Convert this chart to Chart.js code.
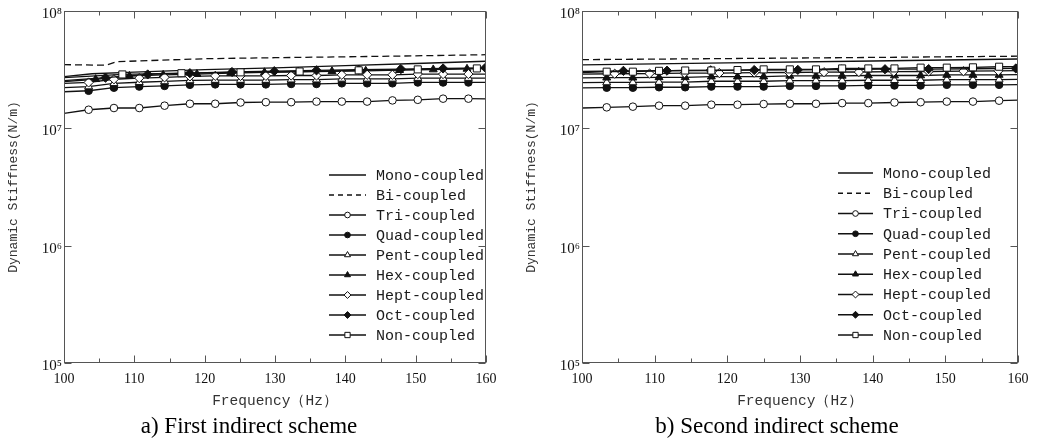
<!DOCTYPE html>
<html><head><meta charset="utf-8">
<script src="https://cdn.jsdelivr.net/npm/chart.js@4.4.1/dist/chart.umd.min.js"></script>
<style>
html,body{margin:0;padding:0;background:#fff;}
body{width:1038px;height:441px;position:relative;overflow:hidden;}
canvas{position:absolute;top:0;}
#ca{left:0;} #cb{left:518px;}
</style></head><body>
<canvas id="ca" width="498" height="441"></canvas>
<canvas id="cb" width="518" height="441"></canvas>
<script>
// ---------- data ----------
const seriesNames = ['Mono-coupled','Bi-coupled','Tri-coupled','Quad-coupled','Pent-coupled','Hex-coupled','Hept-coupled','Oct-coupled','Non-coupled'];
const captions = ['a) First indirect scheme','b) Second indirect scheme'];
const xTitle = 'Frequency（Hz）';
const yTitle = 'Dynamic Stiffness(N/m)';
const xTicks = [100,110,120,130,140,150,160];
const xMinorTicks = [105,115,125,135,145,155];
const yTicks = [1e5,1e6,1e7,1e8];
const yTickLabels = ['10⁵','10⁶','10⁷','10⁸'];

// chart a
const aMonoX = [100,104,110,120,130,140,150,160];
const aMonoY = [2.76e7,2.92e7,3.01e7,3.16e7,3.28e7,3.42e7,3.57e7,3.73e7];
const aBiX = [100,106,107.5,120,130,140,150,160];
const aBiY = [3.49e7,3.45e7,3.70e7,3.92e7,4.00e7,4.07e7,4.15e7,4.24e7];
const aGridX = [100,103.5,107.1,110.7,114.3,117.9,121.5,125.1,128.7,132.3,135.9,139.5,143.1,146.7,150.3,153.9,157.5,160];
const aTriY = [1.34e7,1.44e7,1.49e7,1.49e7,1.56e7,1.62e7,1.62e7,1.66e7,1.67e7,1.67e7,1.69e7,1.69e7,1.69e7,1.73e7,1.75e7,1.79e7,1.79e7,1.78e7];
const aQuadY = [2.05e7,2.09e7,2.22e7,2.27e7,2.30e7,2.35e7,2.37e7,2.37e7,2.37e7,2.39e7,2.39e7,2.42e7,2.42e7,2.42e7,2.46e7,2.46e7,2.46e7,2.46e7];
const aPentY = [2.22e7,2.27e7,2.42e7,2.47e7,2.51e7,2.56e7,2.58e7,2.58e7,2.58e7,2.60e7,2.60e7,2.64e7,2.64e7,2.64e7,2.68e7,2.68e7,2.68e7,2.68e7];
const aHeptY = [2.42e7,2.46e7,2.62e7,2.68e7,2.72e7,2.77e7,2.80e7,2.80e7,2.80e7,2.82e7,2.82e7,2.86e7,2.86e7,2.86e7,2.90e7,2.90e7,2.90e7,2.90e7];
const aHexX = [100,104.5,109.3,114.1,118.9,123.7,128.5,133.3,138.1,142.9,147.7,152.5,157.3,160];
const aHexY = [2.50e7,2.62e7,2.79e7,2.85e7,2.90e7,2.96e7,3.00e7,3.03e7,3.06e7,3.09e7,3.13e7,3.17e7,3.21e7,3.23e7];
const aOctX = [100,105.9,111.9,117.9,123.9,129.9,135.9,141.9,147.9,153.9,159.9];
const aOctY = [2.55e7,2.70e7,2.88e7,2.95e7,3.02e7,3.07e7,3.12e7,3.16e7,3.20e7,3.24e7,3.28e7];
const aNonX = [100,108.3,116.7,125.1,133.5,141.9,150.3,158.7,160];
const aNonY = [2.70e7,2.88e7,2.95e7,3.00e7,3.05e7,3.12e7,3.18e7,3.24e7,3.25e7];

// chart b
const bMonoX = [100,120,140,160];
const bMonoY = [3.47e7,3.61e7,3.75e7,3.90e7];
const bBiX = [100,120,140,160];
const bBiY = [3.85e7,3.93e7,4.02e7,4.12e7];
const bGridX = [100,103.4,107.0,110.6,114.2,117.8,121.4,125.0,128.6,132.2,135.8,139.4,143.0,146.6,150.2,153.8,157.4,160];
const bTriY = [1.49e7,1.51e7,1.53e7,1.56e7,1.56e7,1.59e7,1.59e7,1.61e7,1.62e7,1.62e7,1.64e7,1.64e7,1.66e7,1.67e7,1.69e7,1.69e7,1.72e7,1.74e7];
const bQuadY = [2.21e7,2.22e7,2.22e7,2.24e7,2.24e7,2.27e7,2.27e7,2.27e7,2.30e7,2.30e7,2.30e7,2.32e7,2.32e7,2.32e7,2.35e7,2.35e7,2.35e7,2.36e7];
const bPentY = [2.45e7,2.46e7,2.46e7,2.48e7,2.48e7,2.52e7,2.52e7,2.52e7,2.55e7,2.55e7,2.55e7,2.57e7,2.57e7,2.57e7,2.60e7,2.60e7,2.60e7,2.61e7];
const bHexY = [2.69e7,2.70e7,2.70e7,2.72e7,2.72e7,2.76e7,2.76e7,2.76e7,2.80e7,2.80e7,2.80e7,2.82e7,2.82e7,2.82e7,2.85e7,2.85e7,2.85e7,2.87e7];
const bHeptX = [100,104.5,109.3,114.1,118.9,123.7,128.5,133.3,138.1,142.9,147.7,152.5,157.3,160];
const bHeptY = [2.90e7,2.92e7,2.93e7,2.95e7,2.96e7,2.98e7,2.99e7,3.01e7,3.02e7,3.04e7,3.05e7,3.07e7,3.09e7,3.10e7];
const bOctX = [100,105.7,111.7,117.7,123.7,129.7,135.7,141.7,147.7,153.7,159.7];
const bOctY = [3.05e7,3.09e7,3.10e7,3.12e7,3.14e7,3.15e7,3.17e7,3.19e7,3.20e7,3.22e7,3.24e7];
const bNonY = [2.98e7,3.04e7,3.04e7,3.09e7,3.11e7,3.11e7,3.14e7,3.18e7,3.18e7,3.18e7,3.24e7,3.24e7,3.24e7,3.29e7,3.29e7,3.31e7,3.35e7,3.36e7];

// ---------- styles ----------
const INK = '#111';
const styles = [
  {pointStyle:false, dash:[]},
  {pointStyle:false, dash:[7,4]},
  {pointStyle:'circle', fill:'#fff', r:3.8},
  {pointStyle:'circle', fill:INK, r:3.8},
  {pointStyle:'triangle', fill:'#fff', r:4.6},
  {pointStyle:'triangle', fill:INK, r:4.6},
  {pointStyle:'rectRot', fill:'#fff', r:4.6},
  {pointStyle:'rectRot', fill:INK, r:4.6},
  {pointStyle:'rect', fill:'#fff', r:5}
];

function pts(xs, ys){ return xs.map((x,i)=>({x:x, y:ys[i]})); }

function buildDatasets(series){
  return series.map((d,i)=>{
    const s = styles[i];
    return {
      label: seriesNames[i],
      data: pts(d[0], d[1]),
      borderColor: INK,
      borderWidth: 1.3,
      borderDash: s.dash || [],
      pointStyle: s.pointStyle,
      pointBackgroundColor: s.fill || '#fff',
      pointBorderColor: INK,
      pointBorderWidth: 1,
      pointRadius: (c)=>{ if(!s.pointStyle) return 0; const p = c.raw; return (p && (p.x===100 || p.x===160)) ? 0 : s.r; },
      tension: 0,
      fill: false,
      order: 9 - i
    };
  });
}

const frameTicks = {
  id:'frameTicks',
  afterDatasetsDraw(chart){
    const {ctx, chartArea:a, scales:{x,y}} = chart;
    ctx.save();
    ctx.strokeStyle = '#555'; ctx.lineWidth = 1;
    const L = Math.round(a.left)+0.5, R = Math.round(a.right)-0.5, T = Math.round(a.top)+0.5, B = Math.round(a.bottom)-0.5;
    ctx.strokeRect(L, T, R-L, B-T);
    ctx.beginPath();
    xTicks.forEach(v=>{ const px = Math.round(x.getPixelForValue(v))+0.5; ctx.moveTo(px,B); ctx.lineTo(px,B-7); ctx.moveTo(px,T); ctx.lineTo(px,T+7); });
    xMinorTicks.forEach(v=>{ const px = Math.round(x.getPixelForValue(v))+0.5; ctx.moveTo(px,B); ctx.lineTo(px,B-4); ctx.moveTo(px,T); ctx.lineTo(px,T+4); });
    yTicks.forEach(v=>{ const py = Math.round(y.getPixelForValue(v))+0.5; ctx.moveTo(L,py); ctx.lineTo(L+7,py); ctx.moveTo(R,py); ctx.lineTo(R-7,py); });
    ctx.stroke();
    ctx.restore();
  }
};

const insideLegend = {
  id:'insideLegend',
  afterDraw(chart, args, o){
    const {ctx, chartArea:a} = chart;
    chart.data.datasets.forEach((ds,i)=>{
      const s = styles[i];
      const y = a.top + o.top + i*o.rowGap;
      const x0 = a.left + o.left;
      ctx.save();
      ctx.strokeStyle = INK; ctx.lineWidth = 1.3;
      ctx.setLineDash(s.dash && s.dash.length ? [5,4] : []);
      ctx.beginPath(); ctx.moveTo(x0,y); ctx.lineTo(x0+o.sample,y); ctx.stroke();
      ctx.setLineDash([]);
      if (s.pointStyle){
        ctx.fillStyle = s.fill; ctx.strokeStyle = INK; ctx.lineWidth = 1;
        Chart.helpers.drawPoint(ctx, {pointStyle:s.pointStyle, radius:s.r*0.75, rotation:0, borderWidth:1}, x0+o.sample/2, y);
      }
      ctx.fillStyle = '#1a1a1a';
      ctx.font = '15px "Liberation Mono", monospace';
      ctx.textBaseline = 'middle'; ctx.textAlign = 'left';
      ctx.fillText(ds.label, x0+o.sample+o.gap, y+1);
      ctx.restore();
    });
  }
};

function makeChart(id, series, caption, rightSpace, legendOpts){
  return new Chart(document.getElementById(id), {
    type:'line',
    data:{datasets: buildDatasets(series)},
    plugins:[frameTicks, insideLegend],
    options:{
      responsive:false, animation:false, events:[],
      layout:{padding:{top:9, right:0, left:0, bottom:0}},
      plugins:{
        legend:{display:false}, tooltip:{enabled:false},
        title:{display:true, position:'bottom', text:caption, color:'#000',
          font:{family:'"Liberation Serif", serif', size:23, weight:'normal', lineHeight:1.2}, padding:{top:0,bottom:0}},
        insideLegend: legendOpts
      },
      scales:{
        x:{type:'linear', min:100, max:160,
          afterBuildTicks:(sc)=>{ sc.ticks = xTicks.map(v=>({value:v})); },
          afterFit:(sc)=>{ sc.height = 50.4; sc.paddingLeft = 0; sc.paddingRight = rightSpace; },
          grid:{display:false, drawTicks:false}, border:{display:false},
          ticks:{color:'#111', padding:8, maxRotation:0, font:{family:'"Liberation Serif", serif', size:14, lineHeight:1.2}},
          title:{display:true, text:xTitle, color:'#333', padding:{top:0,bottom:3.3}, font:{family:'"Liberation Mono", monospace', size:14.5, lineHeight:1.2}}
        },
        y:{type:'logarithmic', min:1e5, max:1e8,
          afterBuildTicks:(sc)=>{ sc.ticks = yTicks.map(v=>({value:v})); },
          afterFit:(sc)=>{ sc.width = 64; },
          grid:{display:false, drawTicks:false}, border:{display:false},
          ticks:{color:'#111', padding:2, labelOffset:3, font:{family:'"Liberation Serif", serif', size:15, lineHeight:1.2},
            callback:(v)=>{ const k = yTicks.indexOf(v); return k>=0 ? yTickLabels[k] : ''; }},
          title:{display:true, text:yTitle, color:'#333', padding:{top:6,bottom:0}, font:{family:'"Liberation Mono", monospace', size:13, lineHeight:1.2}}
        }
      }
    }
  });
}

makeChart('ca', [
  [aMonoX,aMonoY],[aBiX,aBiY],[aGridX,aTriY],[aGridX,aQuadY],[aGridX,aPentY],
  [aHexX,aHexY],[aGridX,aHeptY],[aOctX,aOctY],[aNonX,aNonY]
], captions[0], 12, {top:164, left:265, rowGap:20, sample:37, gap:10});

makeChart('cb', [
  [bMonoX,bMonoY],[bBiX,bBiY],[bGridX,bTriY],[bGridX,bQuadY],[bGridX,bPentY],
  [bGridX,bHexY],[bHeptX,bHeptY],[bOctX,bOctY],[bGridX,bNonY]
], captions[1], 18, {top:162, left:256, rowGap:20.25, sample:35, gap:10});
</script>
</body></html>
